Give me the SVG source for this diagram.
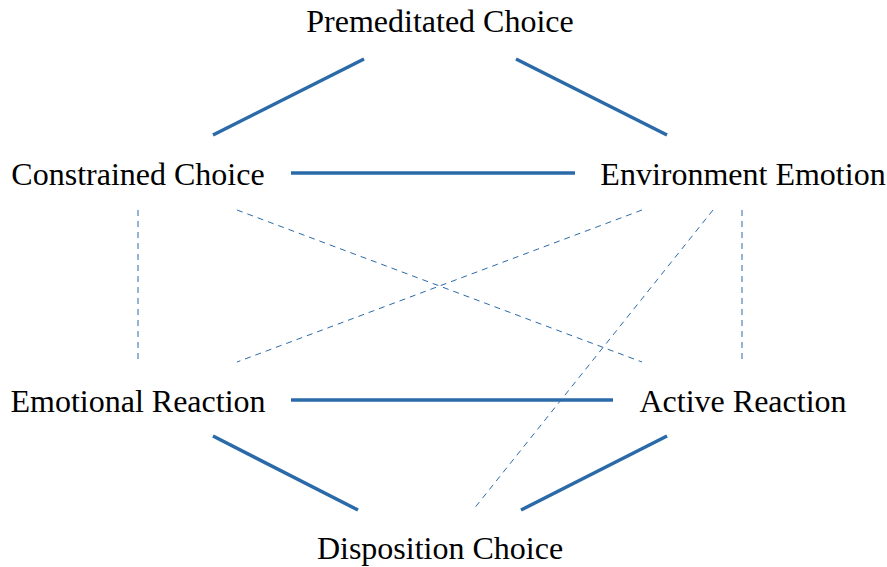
<svg xmlns="http://www.w3.org/2000/svg" width="887" height="567" viewBox="0 0 887 567">
<style>
text{font-family:"Liberation Serif","Times New Roman",serif;font-size:32px;fill:#000}
.s{stroke:#2a6aa8;stroke-width:3.5;fill:none}
.d{stroke:#2a6aa8;stroke-width:1;fill:none;stroke-dasharray:6,5}
</style>
<rect width="887" height="567" fill="#fff"/>
<g id="connectors">
<line class="s" x1="364" y1="59" x2="213" y2="135"/>
<line class="s" x1="516" y1="59" x2="667" y2="135"/>
<line class="s" x1="291" y1="173" x2="575" y2="173"/>
<line class="s" x1="291" y1="400" x2="613" y2="400"/>
<line class="s" x1="213" y1="436" x2="358" y2="510"/>
<line class="s" x1="667" y1="436" x2="521" y2="510"/>
<line class="d" x1="138" y1="210" x2="138" y2="362"/>
<line class="d" x1="742" y1="210" x2="742" y2="362"/>
<line class="d" x1="237" y1="210" x2="642" y2="362"/>
<line class="d" x1="642" y1="210" x2="237" y2="362"/>
<line class="d" x1="713" y1="210" x2="473" y2="510"/>
</g>
<g id="premeditated"><text x="440" y="32" text-anchor="middle">Premeditated Choice</text></g>
<g id="constrained"><text x="138" y="185" text-anchor="middle">Constrained Choice</text></g>
<g id="environment"><text x="743" y="185" text-anchor="middle">Environment Emotion</text></g>
<g id="emotional"><text x="138" y="412" text-anchor="middle">Emotional Reaction</text></g>
<g id="active"><text x="743" y="412" text-anchor="middle">Active Reaction</text></g>
<g id="disposition"><text x="440" y="559" text-anchor="middle">Disposition Choice</text></g>
</svg>
